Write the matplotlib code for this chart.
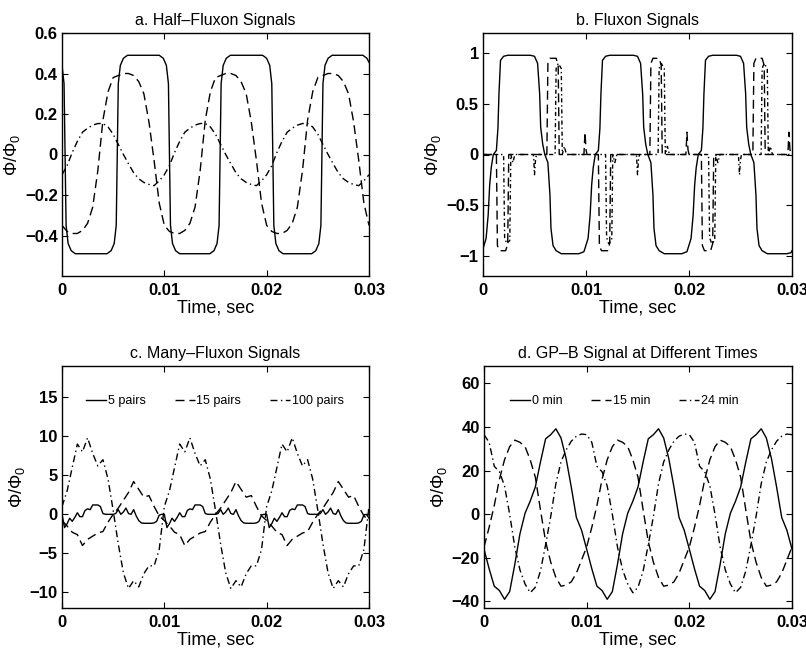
import numpy as np
import matplotlib
matplotlib.use("Agg")
import matplotlib.pyplot as plt

plt.rcParams["font.family"] = ["Liberation Sans", "DejaVu Sans"]
plt.rcParams["mathtext.fontset"] = "custom"
plt.rcParams["mathtext.rm"] = "Liberation Sans"
plt.rcParams["mathtext.it"] = "Liberation Sans:italic"
plt.rcParams["mathtext.bf"] = "Liberation Sans:bold"

# sampling grids (seconds)
t_grid = np.linspace(0, 0.03, 61)    # 0.5 ms
t_fine = np.linspace(0, 0.03, 121)   # 0.25 ms

# ---- a. Half-Fluxon Signals ----
a_solid_t = [0.0, 0.0002, 0.0003, 0.0004, 0.0006, 0.0009, 0.0013,
             0.0044, 0.0048, 0.0051, 0.0053, 0.0054, 0.0055, 0.0057, 0.0060, 0.0064,
             0.0095, 0.0099, 0.0102, 0.0104, 0.0105, 0.0106, 0.0108, 0.0111, 0.0115,
             0.01445, 0.01485, 0.01515, 0.01535, 0.01545, 0.01555, 0.01575, 0.01605, 0.01645,
             0.0196, 0.0200, 0.0203, 0.0205, 0.0206, 0.0207, 0.0209, 0.0212, 0.0216,
             0.0244, 0.0248, 0.0251, 0.0253, 0.0254, 0.0255, 0.0257, 0.0260, 0.0264,
             0.0294, 0.0298, 0.0300]
a_solid_y = [0.44, 0.35, 0.0, -0.35, -0.44, -0.475, -0.49,
             -0.49, -0.475, -0.44, -0.35, 0.0, 0.35, 0.44, 0.475, 0.49,
             0.49, 0.475, 0.44, 0.35, 0.0, -0.35, -0.44, -0.475, -0.49,
             -0.49, -0.475, -0.44, -0.35, 0.0, 0.35, 0.44, 0.475, 0.49,
             0.49, 0.475, 0.44, 0.35, 0.0, -0.35, -0.44, -0.475, -0.49,
             -0.49, -0.475, -0.44, -0.35, 0.0, 0.35, 0.44, 0.475, 0.49,
             0.49, 0.475, 0.455]
a_dashed = [-0.35, -0.38, -0.39, -0.39, -0.375, -0.34, -0.26, -0.08, 0.17, 0.31,
            0.38, 0.39, 0.40, 0.40, 0.39, 0.36, 0.30, 0.16, -0.03, -0.24,
            -0.35, -0.38, -0.39, -0.39, -0.375, -0.34, -0.26, -0.08, 0.17, 0.31,
            0.38, 0.39, 0.40, 0.40, 0.39, 0.36, 0.30, 0.16, -0.03, -0.24,
            -0.35, -0.38, -0.39, -0.39, -0.375, -0.34, -0.26, -0.08, 0.17, 0.31,
            0.38, 0.39, 0.40, 0.40, 0.39, 0.36, 0.30, 0.16, -0.03, -0.24,
            -0.35]
a_dashdot = [-0.10, -0.055, 0.01, 0.065, 0.11, 0.13, 0.145, 0.153, 0.153, 0.136,
             0.10, 0.05, 0.0, -0.046, -0.09, -0.12, -0.138, -0.148, -0.154, -0.13,
             -0.10, -0.055, 0.01, 0.065, 0.11, 0.13, 0.145, 0.153, 0.153, 0.136,
             0.10, 0.05, 0.0, -0.046, -0.09, -0.12, -0.138, -0.148, -0.154, -0.13,
             -0.10, -0.055, 0.01, 0.065, 0.11, 0.13, 0.145, 0.153, 0.153, 0.136,
             0.10, 0.05, 0.0, -0.046, -0.09, -0.12, -0.138, -0.148, -0.154, -0.13,
             -0.10]

# ---- b. Fluxon Signals ----
b_solid_t = [0.0, 0.0003, 0.0005, 0.00065, 0.0008, 0.001, 0.0013, 0.00145, 0.00155, 0.0017, 0.002, 0.0024,
             0.0046, 0.005, 0.0053, 0.0055, 0.0056, 0.0058, 0.006, 0.0063, 0.0065, 0.0066, 0.0068, 0.0071, 0.0076,
             0.0093, 0.0098, 0.0102, 0.0104, 0.01055, 0.0107, 0.0109, 0.0112, 0.01135, 0.01145, 0.0116, 0.0119, 0.0123,
             0.0146, 0.015, 0.0153, 0.0155, 0.0156, 0.0158, 0.016, 0.0163, 0.0165, 0.0166, 0.0168, 0.0171, 0.0176,
             0.0193, 0.0198, 0.0202, 0.0204, 0.02055, 0.0207, 0.0209, 0.0212, 0.02135, 0.02145, 0.0216, 0.0219, 0.0223,
             0.0246, 0.025, 0.0253, 0.0255, 0.0256, 0.0258, 0.026, 0.0263, 0.0265, 0.0266, 0.0268, 0.0271, 0.0276,
             0.0295, 0.0299, 0.03]
b_solid_y = [-0.93, -0.83, -0.6, -0.3, -0.13, 0.0, 0.04, 0.26, 0.6, 0.93, 0.97, 0.98,
             0.98, 0.97, 0.9, 0.6, 0.27, 0.1, 0.0, -0.08, -0.4, -0.73, -0.9, -0.95, -0.98,
             -0.98, -0.96, -0.83, -0.6, -0.3, -0.13, 0.0, 0.04, 0.26, 0.6, 0.93, 0.97, 0.98,
             0.98, 0.97, 0.9, 0.6, 0.27, 0.1, 0.0, -0.08, -0.4, -0.73, -0.9, -0.95, -0.98,
             -0.98, -0.96, -0.83, -0.6, -0.3, -0.13, 0.0, 0.04, 0.26, 0.6, 0.93, 0.97, 0.98,
             0.98, 0.97, 0.9, 0.6, 0.27, 0.1, 0.0, -0.08, -0.4, -0.73, -0.9, -0.95, -0.98,
             -0.98, -0.97, -0.95]
b_dashed_t = [0.0, 0.0013, 0.0014, 0.0016, 0.0022, 0.0024, 0.0025, 0.0062, 0.0063, 0.0065, 0.0071, 0.0073, 0.0074,
              0.0098, 0.0099, 0.0100, 0.0101,
              0.0112, 0.0113, 0.0115, 0.0121, 0.0123, 0.0124, 0.0162, 0.0163, 0.0165, 0.0171, 0.0173, 0.0174,
              0.0197, 0.0198, 0.0199, 0.0200,
              0.0212, 0.0213, 0.0215, 0.0221, 0.0223, 0.0224, 0.0262, 0.0263, 0.0265, 0.0271, 0.0273, 0.0274,
              0.0296, 0.0297, 0.0298, 0.0299, 0.03]
b_dashed_y = [0.0, 0.0, -0.9, -0.95, -0.95, -0.88, 0.0, 0.0, 0.9, 0.95, 0.95, 0.88, 0.0,
              0.0, 0.22, 0.05, 0.0,
              0.0, -0.9, -0.95, -0.95, -0.88, 0.0, 0.0, 0.9, 0.95, 0.95, 0.88, 0.0,
              0.0, 0.22, 0.05, 0.0,
              0.0, -0.9, -0.95, -0.95, -0.88, 0.0, 0.0, 0.9, 0.95, 0.95, 0.88, 0.0,
              0.0, 0.22, 0.05, 0.0, 0.0]
b_dashdot_t = [0.0, 0.0020, 0.0021, 0.0023, 0.0026, 0.0027, 0.0029, 0.0031, 0.0049, 0.0050, 0.0051, 0.0052,
               0.0070, 0.0071, 0.0073, 0.0076, 0.0077, 0.0079, 0.0081,
               0.0119, 0.0120, 0.0122, 0.0125, 0.0126, 0.0128, 0.0130, 0.0149, 0.0150, 0.0151, 0.0152,
               0.0170, 0.0171, 0.0173, 0.0176, 0.0177, 0.0179, 0.0181,
               0.0219, 0.0220, 0.0222, 0.0225, 0.0226, 0.0228, 0.0230, 0.0248, 0.0249, 0.0250, 0.0251,
               0.0270, 0.0271, 0.0273, 0.0276, 0.0277, 0.0279, 0.0281, 0.03]
b_dashdot_y = [0.0, 0.0, -0.82, -0.88, -0.85, 0.0, -0.08, 0.0, 0.0, -0.2, -0.05, 0.0,
               0.0, 0.85, 0.9, 0.85, 0.0, 0.08, 0.0,
               0.0, -0.82, -0.88, -0.85, 0.0, -0.08, 0.0, 0.0, -0.2, -0.05, 0.0,
               0.0, 0.85, 0.9, 0.85, 0.0, 0.08, 0.0,
               0.0, -0.82, -0.88, -0.85, 0.0, -0.08, 0.0, 0.0, -0.2, -0.05, 0.0,
               0.0, 0.85, 0.9, 0.85, 0.0, 0.08, 0.0, 0.0]

# ---- c. Many-Fluxon Signals ----
c_labels = ["5 pairs", "15 pairs", "100 pairs"]
c_5pairs = [0.0, -1.7, -1.2, -0.5, -0.9, -0.4, 0.2, -0.3, -0.3, 0.5, 0.7, 0.6, 1.2, 1.2, 1.2, 1.0, 0.1, 0.0, 0.0, 0.0,
            0.0, 0.1, 0.6, 0.0, 0.3, 0.8, 0.1, 0.0, 0.6, -0.2, -0.8, -1.1, -1.15, -1.15, -1.15, -1.15, -1.1, -0.9, -0.1, 0.0,
            0.0, -1.7, -1.2, -0.5, -0.9, -0.4, 0.2, -0.3, -0.3, 0.5, 0.7, 0.6, 1.2, 1.2, 1.2, 1.0, 0.1, 0.0, 0.0, 0.0,
            0.0, 0.1, 0.6, 0.0, 0.3, 0.8, 0.1, 0.0, 0.6, -0.2, -0.8, -1.1, -1.15, -1.15, -1.15, -1.15, -1.1, -0.9, -0.1, 0.0,
            0.0, -1.7, -1.2, -0.5, -0.9, -0.4, 0.2, -0.3, -0.3, 0.5, 0.7, 0.6, 1.2, 1.2, 1.2, 1.0, 0.1, 0.0, 0.0, 0.0,
            0.0, 0.1, 0.6, 0.0, 0.3, 0.8, 0.1, 0.0, 0.6, -0.2, -0.8, -1.1, -1.15, -1.15, -1.15, -1.15, -1.1, -0.9, -0.1, 0.0,
            -0.5]
c_15pairs = [-0.8, -1.5, -2.3, -2.6, -4.0, -3.2, -2.8, -2.4, -2.2, -1.0,
             0.0, 0.8, 1.8, 2.8, 4.2, 3.2, 2.2, 2.4, 1.0, -0.2,
             -0.8, -1.5, -2.3, -2.6, -4.0, -3.2, -2.8, -2.4, -2.2, -1.0,
             0.0, 0.8, 1.8, 2.8, 4.2, 3.2, 2.2, 2.4, 1.0, -0.2,
             -0.8, -1.5, -2.3, -2.6, -4.0, -3.2, -2.8, -2.4, -2.2, -1.0,
             0.0, 0.8, 1.8, 2.8, 4.2, 3.2, 2.2, 2.4, 1.0, -0.2,
             -0.8]
c_100pairs = [1.0, 3.0, 6.0, 9.0, 8.0, 9.8, 7.8, 6.2, 7.0, 4.5,
              0.5, -3.8, -7.5, -9.5, -8.5, -9.3, -7.6, -6.6, -6.6, -4.5,
              1.0, 3.0, 6.0, 9.0, 8.0, 9.8, 7.8, 6.2, 7.0, 4.5,
              0.5, -3.8, -7.5, -9.5, -8.5, -9.3, -7.6, -6.6, -6.6, -4.5,
              1.0, 3.0, 6.0, 9.0, 8.0, 9.8, 7.8, 6.2, 7.0, 4.5,
              0.5, -3.8, -7.5, -9.5, -8.5, -9.3, -7.6, -6.6, -6.6, -4.5,
              1.0]

# ---- d. GP-B Signal at Different Times ----
d_labels = ["0 min", "15 min", "24 min"]
d_0min = [-16, -25, -33, -35, -39, -35.5, -23, -9, 0.5, 6,
          12.5, 24, 34.6, 36.5, 39.2, 35, 25.5, 12.5, -1.5, -7.3,
          -16, -25, -33, -35, -39, -35.5, -23, -9, 0.5, 6,
          12.5, 24, 34.6, 36.5, 39.2, 35, 25.5, 12.5, -1.5, -7.3,
          -16, -25, -33, -35, -39, -35.5, -23, -9, 0.5, 6,
          12.5, 24, 34.6, 36.5, 39.2, 35, 25.5, 12.5, -1.5, -7.3,
          -16]
d_15min = [-15, -6, 4, 16, 25, 31, 34, 33, 31, 25,
           17, 2, -12.5, -22, -29, -33, -32.5, -31, -27, -21,
           -15, -6, 4, 16, 25, 31, 34, 33, 31, 25,
           17, 2, -12.5, -22, -29, -33, -32.5, -31, -27, -21,
           -15, -6, 4, 16, 25, 31, 34, 33, 31, 25,
           17, 2, -12.5, -22, -29, -33, -32.5, -31, -27, -21,
           -15]
d_24min = [36.5, 33, 22, 19.5, 13, 0, -15, -25.5, -32, -36,
           -33.5, -26, -14, -1, 14, 24, 29.5, 33.5, 35.8, 36.8,
           36.5, 33, 22, 19.5, 13, 0, -15, -25.5, -32, -36,
           -33.5, -26, -14, -1, 14, 24, 29.5, 33.5, 35.8, 36.8,
           36.5, 33, 22, 19.5, 13, 0, -15, -25.5, -32, -36,
           -33.5, -26, -14, -1, 14, 24, 29.5, 33.5, 35.8, 36.8,
           36.5]

x_ticks = [0, 0.01, 0.02, 0.03]
x_ticklabels = ["0", "0.01", "0.02", "0.03"]

LW = 1.0
DASH = (6.5, 3.5)
DASHDOT = (5, 2.5, 1, 2.5)

fig = plt.figure(figsize=(8.06, 6.56), dpi=100)
ax_a = fig.add_axes([62 / 806, 1 - 276 / 656, 307 / 806, 243 / 656])
ax_b = fig.add_axes([483 / 806, 1 - 276 / 656, 309 / 806, 243 / 656])
ax_c = fig.add_axes([62 / 806, 1 - 608 / 656, 307 / 806, 242 / 656])
ax_d = fig.add_axes([484 / 806, 1 - 608 / 656, 308 / 806, 242 / 656])


def style(ax, title, ylim, yticks, yticklabels):
    ax.set_xlim(0, 0.03)
    ax.set_ylim(*ylim)
    ax.set_xticks(x_ticks)
    ax.set_xticklabels(x_ticklabels)
    ax.set_yticks(yticks)
    ax.set_yticklabels(yticklabels)
    ax.tick_params(direction="in", top=True, right=True, length=4, width=0.8,
                   labelsize=12)
    ax.tick_params(axis="x", pad=5)
    ax.tick_params(axis="y", pad=3)
    for lab in ax.get_xticklabels() + ax.get_yticklabels():
        lab.set_fontweight("bold")
    for sp in ax.spines.values():
        sp.set_linewidth(1.0)
    ax.set_title(title, fontsize=11.5, pad=6)
    ax.set_xlabel("Time, sec", fontsize=13, labelpad=1)
    ax.set_ylabel(r"$\Phi/\Phi_0$", fontsize=13, labelpad=2)


# a
ax_a.plot(a_solid_t, a_solid_y, color="k", lw=LW)
ax_a.plot(t_grid, a_dashed, color="k", lw=LW, dashes=DASH)
ax_a.plot(t_grid, a_dashdot, color="k", lw=LW, dashes=DASHDOT)
style(ax_a, "a. Half\u2013Fluxon Signals", (-0.6, 0.6),
      [-0.4, -0.2, 0, 0.2, 0.4, 0.6],
      ["\u22120.4", "\u22120.2", "0", "0.2", "0.4", "0.6"])

# b
ax_b.plot(b_solid_t, b_solid_y, color="k", lw=LW)
ax_b.plot(b_dashed_t, b_dashed_y, color="k", lw=LW, dashes=DASH)
ax_b.plot(b_dashdot_t, b_dashdot_y, color="k", lw=LW, dashes=(3, 2, 1, 2))
style(ax_b, "b. Fluxon Signals", (-1.2, 1.2),
      [-1, -0.5, 0, 0.5, 1], ["\u22121", "\u22120.5", "0", "0.5", "1"])

# c
ax_c.plot(t_fine, c_5pairs, color="k", lw=LW, label=c_labels[0])
ax_c.plot(t_grid, c_15pairs, color="k", lw=LW, dashes=DASH, label=c_labels[1])
ax_c.plot(t_grid, c_100pairs, color="k", lw=LW, dashes=DASHDOT, label=c_labels[2])
style(ax_c, "c. Many\u2013Fluxon Signals", (-12, 19),
      [-10, -5, 0, 5, 10, 15], ["\u221210", "\u22125", "0", "5", "10", "15"])

# d
ax_d.plot(t_grid, d_0min, color="k", lw=LW, label=d_labels[0])
ax_d.plot(t_grid, d_15min, color="k", lw=LW, dashes=DASH, label=d_labels[1])
ax_d.plot(t_grid, d_24min, color="k", lw=LW, dashes=DASHDOT, label=d_labels[2])
style(ax_d, "d. GP\u2013B Signal at Different Times", (-43, 68),
      [-40, -20, 0, 20, 40, 60], ["\u221240", "\u221220", "0", "20", "40", "60"])

for ax, x0 in ((ax_c, 24 / 307), (ax_d, 26 / 308)):
    ax.legend(loc="center left", bbox_to_anchor=(x0, 0.855), ncol=3,
              frameon=False, fontsize=9, handlelength=1.6, handletextpad=0.15,
              columnspacing=2.3, borderpad=0, borderaxespad=0)

fig.savefig("out.png", dpi=100)
